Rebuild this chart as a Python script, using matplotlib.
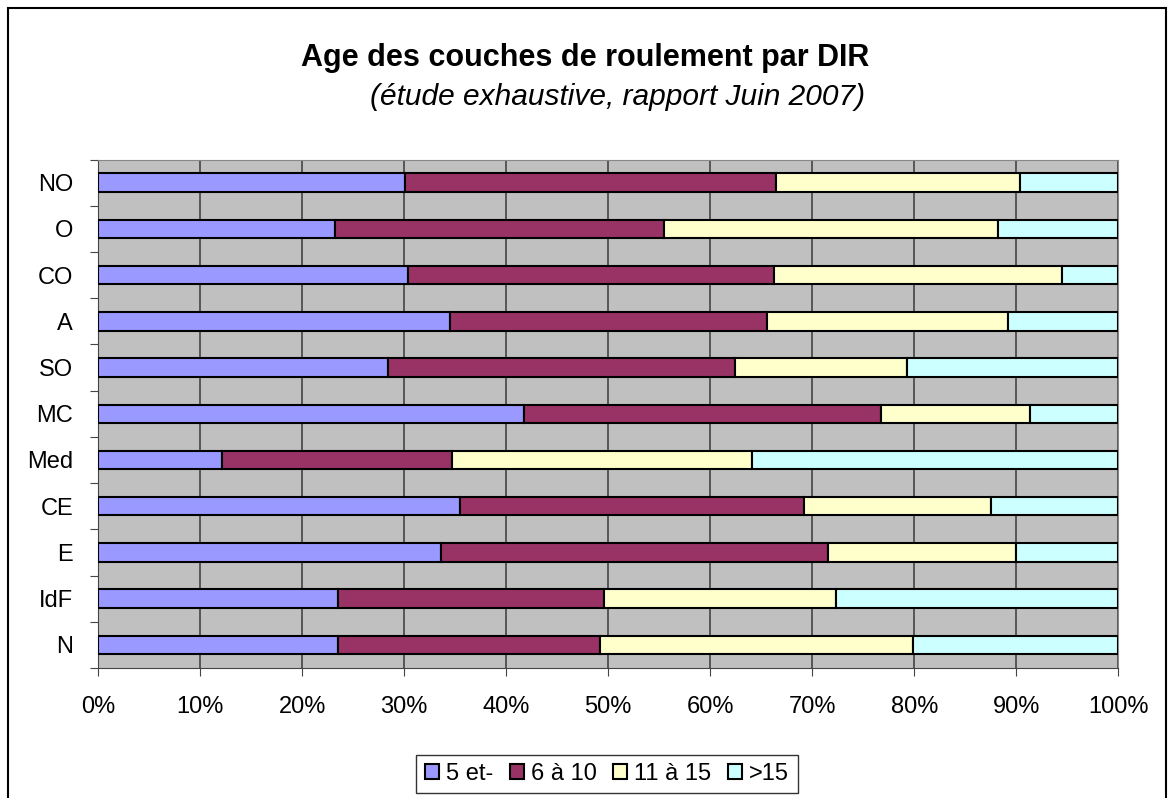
import matplotlib
matplotlib.use('Agg')
from matplotlib import pyplot as plt
from matplotlib.patches import Rectangle
import numpy as np

plt.rcParams['font.family'] = ['Liberation Sans', 'DejaVu Sans']

regions = ['NO', 'O', 'CO', 'A', 'SO', 'MC', 'Med', 'CE', 'E', 'IdF', 'N']
age_5 = [30.1, 23.2, 30.4, 34.5, 28.4, 41.8, 12.2, 35.5, 33.6, 23.5, 23.5]
age_6_10 = [36.4, 32.3, 35.9, 31.1, 34.0, 34.9, 22.5, 33.7, 38.0, 26.1, 25.7]
age_11_15 = [23.9, 32.7, 28.2, 23.6, 16.9, 14.7, 29.4, 18.3, 18.4, 22.7, 30.7]
series_labels = ['5 et-', '6 à 10', '11 à 15', '>15']
colors = ['#9999ff', '#993366', '#ffffcc', '#ccffff']

s1 = np.array(age_5)
s2 = np.array(age_6_10)
s3 = np.array(age_11_15)
s4 = 100 - s1 - s2 - s3

fig = plt.figure(figsize=(11.74, 7.98), dpi=100)
ax = fig.add_axes([0.0835, 0.163, 0.869, 0.637])
ax.set_facecolor('#c0c0c0')

y = np.arange(len(regions))[::-1]
left = np.zeros(len(regions))
for vals, c, lab in zip([s1, s2, s3, s4], colors, series_labels):
    ax.barh(y, vals, left=left, height=0.4, color=c, edgecolor='black', linewidth=1.5, label=lab, zorder=3)
    left = left + vals

ax.set_xlim(0, 100)
ax.set_ylim(-0.5, len(regions) - 0.5)
ax.set_xticks(np.arange(0, 101, 10))
ax.set_xticklabels([f'{v}%' for v in range(0, 101, 10)], fontsize=17)
ax.xaxis.grid(True, color='#444444', linewidth=1.2, zorder=0)
ax.set_axisbelow(True)

ax.set_yticks(np.arange(-0.5, len(regions), 1))
ax.set_yticklabels([])
ax.set_yticks(y, minor=True)
ax.set_yticklabels(regions, minor=True, fontsize=17)
ax.tick_params(axis='y', which='minor', length=0, pad=18)
ax.tick_params(axis='y', which='major', length=6, color='#444444')
ax.tick_params(axis='x', length=6, pad=14, color='#444444')

for side in ['top', 'right']:
    ax.spines[side].set_color('#888888')
for side in ['left', 'bottom']:
    ax.spines[side].set_color('#444444')

fig.text(0.498, 0.927, 'Age des couches de roulement par DIR', ha='center', va='center',
         fontsize=22, fontweight='bold')
fig.text(0.526, 0.878, '(étude exhaustive, rapport Juin 2007)', ha='center', va='center',
         fontsize=21.5, fontstyle='italic')

leg = fig.legend(loc='center', bbox_to_anchor=(0.517, 0.03), ncol=4, fontsize=17,
                 frameon=True, fancybox=False, edgecolor='black', handlelength=0.6,
                 handleheight=0.6, handletextpad=0.3, columnspacing=0.7, borderpad=0.35)
leg.get_frame().set_linewidth(1.0)

fig.patches.append(Rectangle((0.007, -0.01), 0.986, 1.0, transform=fig.transFigure,
                             fill=False, edgecolor='black', linewidth=1.5))

fig.savefig('out.png', dpi=100)
